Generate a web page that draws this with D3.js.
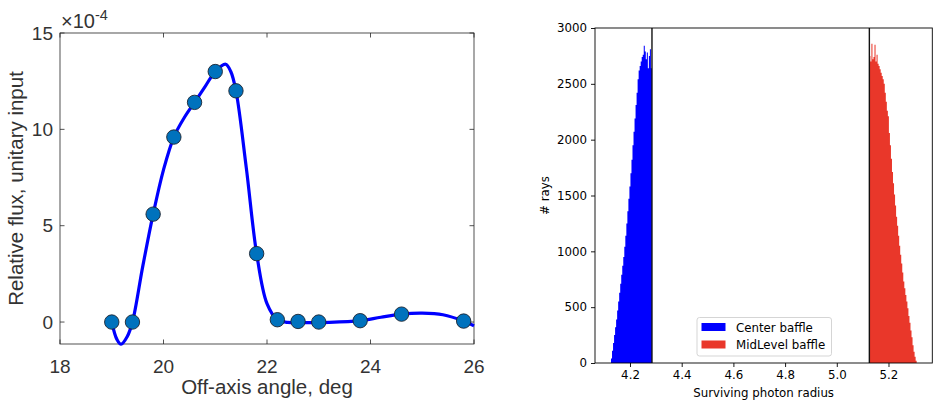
<!DOCTYPE html>
<html>
<head>
<meta charset="utf-8">
<script src="https://cdn.jsdelivr.net/npm/d3@7"></script>
<style>
  html, body { margin: 0; padding: 0; background: #fff; }
  svg { display: block; }
</style>
</head>
<body>
<svg id="chart" width="940" height="414"></svg>
<script>
// ---------- Left panel data (flux in units of 1e-4) ----------
const angleDeg = [19.0, 19.4, 19.8, 20.2, 20.6, 21.0, 21.4, 21.8, 22.2, 22.6, 23.0, 23.8, 24.6, 25.8];
const fluxE4   = [0.0,  0.0,  5.6,  9.6, 11.4, 13.0, 12.0, 3.55, 0.12, 0.03, 0.0, 0.07, 0.41, 0.05];
// smooth fitted curve
const fitAngle = [19.0, 19.1, 19.18, 19.3, 19.4, 19.6, 19.8, 20.0, 20.2, 20.4, 20.6, 20.8, 21.0, 21.2, 21.3, 21.4, 21.6, 21.8, 22.0, 22.2, 22.4, 22.8, 23.2, 23.8, 24.2, 24.6, 25.0, 25.4, 25.8, 26.0];
const fitFlux  = [0.0, -0.9, -1.15, -0.75, 0.0, 2.9, 5.6, 7.9, 9.6, 10.6, 11.4, 12.2, 13.0, 13.38, 13.0, 12.0, 8.0, 3.55, 0.95, 0.12, -0.02, -0.03, -0.02, 0.07, 0.25, 0.41, 0.46, 0.38, 0.05, -0.2];
const leftXTicks = [18, 20, 22, 24, 26];
const leftYTicks = [0, 5, 10, 15];

// ---------- Right panel data (histograms) ----------
const centerStart = 4.1265, centerBinWidth = 0.00396;
const centerCounts = [40, 110, 180, 250, 320, 390, 470, 550, 630, 710, 790, 870, 950, 1040, 1140, 1250, 1360, 1470, 1580, 1700,
                      1820, 1950, 2070, 2190, 2310, 2420, 2540, 2620, 2660, 2700, 2740, 2760, 2840, 2790, 2720, 2780, 2640, 2750, 2810, 2640];
const midStart = 5.126, midBinWidth = 0.003978;
const midCounts = [2750, 2700, 2860, 2720, 2740, 2850, 2700, 2760, 2680, 2660, 2630, 2600, 2570, 2540, 2500, 2420, 2340, 2260, 2210, 2060,
                   1950, 1830, 1710, 1610, 1510, 1410, 1310, 1230, 1140, 1050, 970, 890, 810, 730, 670, 610, 550, 490, 420, 360,
                   290, 230, 160, 100, 55, 20];
const baffleRadii = [4.285, 5.126];
const rightXTicks = [4.2, 4.4, 4.6, 4.8, 5.0, 5.2];
const rightYTicks = [0, 500, 1000, 1500, 2000, 2500, 3000];
const seriesNames = ["Center baffle", "MidLevel baffle"];
const seriesColors = ["#0000ff", "#e9372a"];

const svg = d3.select("#chart");

// ================= LEFT PANEL (MATLAB style) =================
{
  const L = 60, R = 474, T = 33, B = 344;
  const x = d3.scaleLinear().domain([18, 26]).range([L, R]);
  const y = d3.scaleLinear().domain([-1.14, 15]).range([B, T]);
  const g = svg.append("g").attr("font-family", "'Liberation Sans', Arial, Helvetica, sans-serif");
  const axCol = "#262626";
  const txtCol = "#333333";

  // ticks (inward, all sides)
  const tl = 4.5;
  leftXTicks.forEach(t => {
    g.append("line").attr("x1", x(t)).attr("x2", x(t)).attr("y1", B).attr("y2", B - tl).attr("stroke", axCol).attr("stroke-width", 0.8);
    g.append("line").attr("x1", x(t)).attr("x2", x(t)).attr("y1", T).attr("y2", T + tl).attr("stroke", axCol).attr("stroke-width", 0.8);
    g.append("text").attr("x", x(t)).attr("y", 373).attr("text-anchor", "middle")
      .attr("font-size", 19).attr("fill", txtCol).text(t);
  });
  leftYTicks.forEach(t => {
    g.append("line").attr("x1", L).attr("x2", L + tl).attr("y1", y(t)).attr("y2", y(t)).attr("stroke", axCol).attr("stroke-width", 0.8);
    g.append("line").attr("x1", R).attr("x2", R - tl).attr("y1", y(t)).attr("y2", y(t)).attr("stroke", axCol).attr("stroke-width", 0.8);
    g.append("text").attr("x", L - 7).attr("y", y(t)).attr("dy", "0.35em").attr("text-anchor", "end")
      .attr("font-size", 19).attr("fill", txtCol).text(t);
  });
  g.append("rect").attr("x", L).attr("y", T).attr("width", R - L).attr("height", B - T)
    .attr("fill", "none").attr("stroke", axCol).attr("stroke-width", 0.8);

  // exponent
  const ex = g.append("text").attr("x", 61).attr("y", 28).attr("font-size", 20).attr("fill", txtCol);
  ex.append("tspan").text("\u00d710");
  ex.append("tspan").attr("dy", -8).attr("font-size", 14.5).text("-4");

  // curve
  const fit = fitAngle.map((a, i) => [a, fitFlux[i]]);
  g.append("path").datum(fit)
    .attr("d", d3.line().x(d => x(d[0])).y(d => y(d[1])).curve(d3.curveCatmullRom.alpha(0.5)))
    .attr("fill", "none").attr("stroke", "#0000ff").attr("stroke-width", 3.2).attr("stroke-linejoin", "round");

  // markers
  g.selectAll("circle.pt").data(angleDeg.map((a, i) => [a, fluxE4[i]])).join("circle")
    .attr("class", "pt").attr("cx", d => x(d[0])).attr("cy", d => y(d[1])).attr("r", 7.2)
    .attr("fill", "#0072bd").attr("stroke", "#1c2430").attr("stroke-width", 0.9);

  // labels
  g.append("text").attr("x", (L + R) / 2).attr("y", 394).attr("text-anchor", "middle")
    .attr("font-size", 20.5).attr("fill", txtCol).text("Off-axis angle, deg");
  g.append("text").attr("transform", `translate(23,${(T + B) / 2}) rotate(-90)`).attr("text-anchor", "middle")
    .attr("font-size", 20.5).attr("fill", txtCol).text("Relative flux, unitary input");
}

// ================= RIGHT PANEL (matplotlib style) =================
{
  const L = 595, R = 932.3, T = 28, B = 363;
  const x = d3.scaleLinear().domain([4.0646, 5.3695]).range([L, R]);
  const y = d3.scaleLinear().domain([0, 3000]).range([B, T]);
  const g = svg.append("g").attr("font-family", "'DejaVu Sans', sans-serif");
  const fs = 11.8;

  const histArea = d3.area().x(d => x(d[0])).y0(y(0)).y1(d => y(d[1])).curve(d3.curveStepAfter);
  function histData(start, w, counts) {
    const pts = counts.map((c, i) => [start + i * w, c]);
    pts.push([start + counts.length * w, counts[counts.length - 1]]);
    return pts;
  }
  g.append("path").datum(histData(centerStart, centerBinWidth, centerCounts))
    .attr("d", histArea).attr("fill", seriesColors[0]);
  g.append("path").datum(histData(midStart, midBinWidth, midCounts))
    .attr("d", histArea).attr("fill", seriesColors[1]);

  // baffle lines
  baffleRadii.forEach(r => {
    g.append("line").attr("x1", x(r)).attr("x2", x(r)).attr("y1", T).attr("y2", B)
      .attr("stroke", "#111").attr("stroke-width", 1.4);
  });

  // axes
  g.append("rect").attr("x", L).attr("y", T).attr("width", R - L).attr("height", B - T)
    .attr("fill", "none").attr("stroke", "#000").attr("stroke-width", 0.9);
  const xAxis = g.append("g").attr("transform", `translate(0,${B})`)
    .call(d3.axisBottom(x).tickValues(rightXTicks).tickFormat(d3.format(".1f")).tickSize(4).tickPadding(4));
  const yAxis = g.append("g").attr("transform", `translate(${L},0)`)
    .call(d3.axisLeft(y).tickValues(rightYTicks).tickFormat(d3.format("d")).tickSize(4).tickPadding(4));
  [xAxis, yAxis].forEach(a => {
    a.select(".domain").remove();
    a.selectAll("text").attr("font-size", fs).attr("fill", "#000").attr("font-family", "'DejaVu Sans', sans-serif");
    a.selectAll("line").attr("stroke", "#000").attr("stroke-width", 0.9);
  });

  g.append("text").attr("x", (L + R) / 2).attr("y", 397).attr("text-anchor", "middle")
    .attr("font-size", fs).attr("fill", "#000").text("Surviving photon radius");
  g.append("text").attr("transform", `translate(549,${(T + B) / 2}) rotate(-90)`).attr("text-anchor", "middle")
    .attr("font-size", fs).attr("fill", "#000").text("# rays");

  // legend
  const lg = g.append("g");
  lg.append("rect").attr("x", 697).attr("y", 317.5).attr("width", 134.5).attr("height", 38.5).attr("rx", 2.5)
    .attr("fill", "#fff").attr("fill-opacity", 0.8).attr("stroke", "#d0d0d0").attr("stroke-width", 0.9);
  seriesNames.forEach((name, i) => {
    const cy = 327 + i * 17.5;
    lg.append("rect").attr("x", 701.5).attr("y", cy - 4).attr("width", 24).attr("height", 8).attr("fill", seriesColors[i]);
    lg.append("text").attr("x", 736).attr("y", cy + 4.5).attr("font-size", fs).attr("fill", "#000").text(name);
  });
}
</script>
</body>
</html>
